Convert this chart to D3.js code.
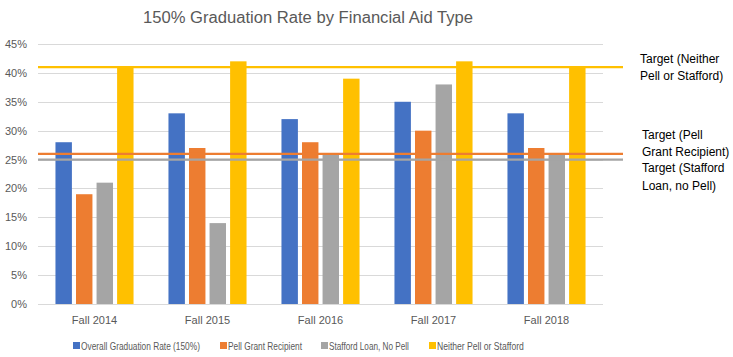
<!DOCTYPE html>
<html><head><meta charset="utf-8">
<script src="https://cdn.jsdelivr.net/npm/d3@7"></script>
<style>body{margin:0;background:#fff;} svg{display:block;font-family:"Liberation Sans",Arial,sans-serif;}</style>
</head><body>
<svg id="c" width="733" height="357"></svg>
<script>
const categories = ["Fall 2014","Fall 2015","Fall 2016","Fall 2017","Fall 2018"];
const seriesNames = ["Overall Graduation Rate (150%)","Pell Grant Recipient","Stafford Loan, No Pell","Neither Pell or Stafford"];
const overall = [28,33,32,35,33];
const pell = [19,27,28,30,27];
const stafford = [21,14,26,38,26];
const neither = [41,42,39,42,41];
const yTicks = [0,5,10,15,20,25,30,35,40,45];
const targetNames = [["Target (Neither","Pell or Stafford)"],["Target (Pell","Grant Recipient)"],["Target (Stafford","Loan, no Pell)"]];
const targetValues = [41,26,25];
const colors = ["#4472C4","#ED7D31","#A5A5A5","#FFC000"];
const targetColors = ["#FFC000","#ED7D31","#A5A5A5"];

const seriesValues = [overall,pell,stafford,neither];
const svg = d3.select("#c");
const L=38,R=603,T=44,B=304;
const x = d3.scaleBand().domain(categories).range([L,R]).padding(0);
const xi = d3.scaleBand().domain(d3.range(4)).range([0,x.bandwidth()]).paddingInner(0.2).paddingOuter(0.85);
const y = d3.scaleLinear().domain([0,45]).range([B,T]);

svg.append("text").attr("x",308).attr("y",23).attr("text-anchor","middle")
  .attr("font-size",16).attr("fill","#595959").attr("textLength",330).attr("lengthAdjust","spacingAndGlyphs")
  .text("150% Graduation Rate by Financial Aid Type");

// grid
svg.append("g").selectAll("line").data(yTicks).join("line")
  .attr("x1",L).attr("x2",R).attr("y1",d=>Math.round(y(d))+0.5).attr("y2",d=>Math.round(y(d))+0.5)
  .attr("stroke","#d9d9d9").attr("stroke-width",1);
svg.append("g").selectAll("text").data(yTicks).join("text")
  .attr("x",27).attr("y",d=>y(d)+4).attr("text-anchor","end").attr("font-size",11).attr("fill","#595959")
  .text(d=>d+"%");

// bars
categories.forEach((c,ci)=>{
  svg.append("g").selectAll("rect").data(seriesValues.map((s,si)=>({si,v:s[ci]}))).join("rect")
    .attr("x",d=>x(c)+xi(d.si)).attr("width",xi.bandwidth())
    .attr("y",d=>y(d.v)).attr("height",d=>B-y(d.v)).attr("fill",d=>colors[d.si]);
});

// x labels
svg.append("g").selectAll("text").data(categories).join("text")
  .attr("x",d=>x(d)+x.bandwidth()/2).attr("y",324).attr("text-anchor","middle")
  .attr("font-size",11).attr("fill","#595959").text(d=>d);

// target lines
const order=[2,1,0];
order.forEach(i=>{
  svg.append("line").attr("x1",L).attr("x2",623).attr("y1",y(targetValues[i])).attr("y2",y(targetValues[i]))
    .attr("stroke",targetColors[i]).attr("stroke-width",2.2);
});
const labelY=[[63,80],[139,156],[172,190]];
targetNames.forEach((t,i)=>{
  t.forEach((line,j)=>{
    svg.append("text").attr("x",i==0?640:642).attr("y",labelY[i][j]).attr("font-size",12).attr("fill","#000").text(line);
  });
});

// legend
const legX=[73,220,321,429];
const legW=[119,74,80,87];
seriesNames.forEach((n,i)=>{
  svg.append("rect").attr("x",legX[i]).attr("y",342).attr("width",7).attr("height",7).attr("fill",colors[i]);
  const g = svg.append("g");
  const t = g.append("text").attr("x",0).attr("y",0).attr("font-size",11).attr("fill","#595959").text(n);
  const w = t.node().getComputedTextLength();
  g.attr("transform",`translate(${legX[i]+8},349.5) scale(${legW[i]/w},1)`);
});
</script>
</body></html>
